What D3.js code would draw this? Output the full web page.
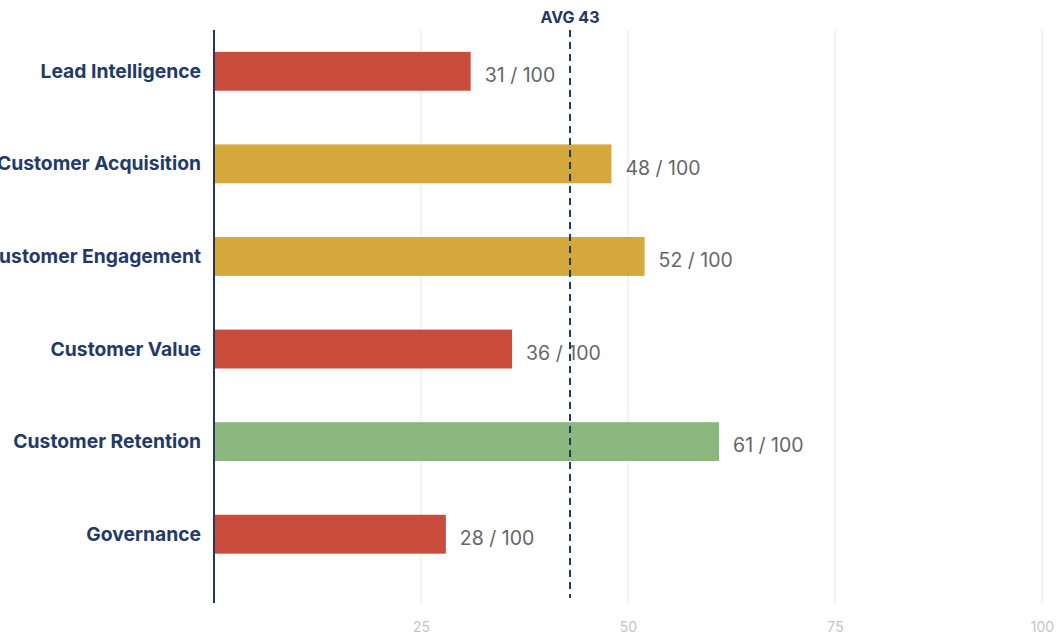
<!DOCTYPE html>
<html>
<head>
<meta charset="utf-8">
<script src="https://cdn.jsdelivr.net/npm/d3@7"></script>
<style>
  body { margin: 0; background: #fff; }
  svg { display: block; font-family: Inter, 'Noto Sans', sans-serif; }
</style>
</head>
<body>
<div id="chart"></div>
<script>
// Data
const categories = ['Lead Intelligence', 'Customer Acquisition', 'Customer Engagement', 'Customer Value', 'Customer Retention', 'Governance']
const scores = [31, 48, 52, 36, 61, 28]
const average = 43
const xTicks = [25, 50, 75, 100]

const width = 1056
const height = 635
const navy = '#1f3864'

const svg = d3.select('#chart')
  .append('svg')
  .attr('width', width)
  .attr('height', height)

// scales
const xScale = d3.scaleLinear()
  .domain([0, 100])
  .range([214, 1042])

const yScale = d3.scaleBand()
  .domain(categories)
  .range([25, 580.5])
  .paddingInner(0.58)
  .paddingOuter(0.29)

const color = v => v < 40 ? '#c94c3c' : (v < 60 ? '#d4a83a' : '#8bb87e')

const plotTop = 30
const plotBottom = 603

// gridlines
svg.append('g')
  .selectAll('line')
  .data(xTicks)
  .enter()
  .append('line')
  .attr('x1', d => xScale(d))
  .attr('x2', d => xScale(d))
  .attr('y1', plotTop)
  .attr('y2', plotBottom)
  .attr('stroke', '#e6e6e6')
  .attr('stroke-width', 1)

// x axis labels
const xAxis = d3.axisBottom(xScale)
  .tickValues(xTicks)
  .tickSize(0)
  .tickPadding(0)

const gx = svg.append('g')
  .attr('transform', `translate(0, ${plotBottom})`)
  .call(xAxis)
gx.select('.domain').remove()
gx.selectAll('text')
  .attr('font-family', 'Inter, sans-serif')
  .attr('font-size', 14)
  .attr('fill', '#c4c4c4')
  .attr('dy', null)
  .attr('y', 29)

// bars
svg.selectAll('rect.bar')
  .data(scores)
  .enter()
  .append('rect')
  .attr('class', 'bar')
  .attr('x', xScale(0))
  .attr('y', (d, i) => yScale(categories[i]))
  .attr('width', d => xScale(d) - xScale(0))
  .attr('height', yScale.bandwidth())
  .attr('fill', d => color(d))

// value labels
svg.selectAll('text.value')
  .data(scores)
  .enter()
  .append('text')
  .attr('class', 'value')
  .attr('x', d => xScale(d) + 14)
  .attr('y', (d, i) => yScale(categories[i]) + yScale.bandwidth() / 2 + 10.8)
  .attr('font-size', 19.5)
  .attr('fill', '#666')
  .text(d => `${d} / 100`)

// y axis
const yAxis = d3.axisLeft(yScale)
  .tickSize(0)
  .tickPadding(13)

const gy = svg.append('g')
  .attr('transform', `translate(${xScale(0)}, 0)`)
  .call(yAxis)
gy.select('.domain').remove()
gy.selectAll('text')
  .attr('font-family', 'Inter, sans-serif')
  .attr('font-size', 19.3)
  .attr('font-weight', 700)
  .attr('fill', '#233a68')
  .attr('dy', null)
  .attr('y', 6.5)

svg.append('line')
  .attr('x1', xScale(0))
  .attr('x2', xScale(0))
  .attr('y1', plotTop)
  .attr('y2', plotBottom)
  .attr('stroke', navy)
  .attr('stroke-width', 2)

// average line
svg.append('line')
  .attr('x1', xScale(average))
  .attr('x2', xScale(average))
  .attr('y1', plotTop)
  .attr('y2', 598)
  .attr('stroke', navy)
  .attr('stroke-width', 2)
  .attr('stroke-dasharray', '7 5')

svg.append('text')
  .attr('x', xScale(average))
  .attr('y', 23)
  .attr('text-anchor', 'middle')
  .attr('font-size', 16)
  .attr('font-weight', 700)
  .attr('fill', navy)
  .text(`AVG ${average}`)
</script>
</body>
</html>
